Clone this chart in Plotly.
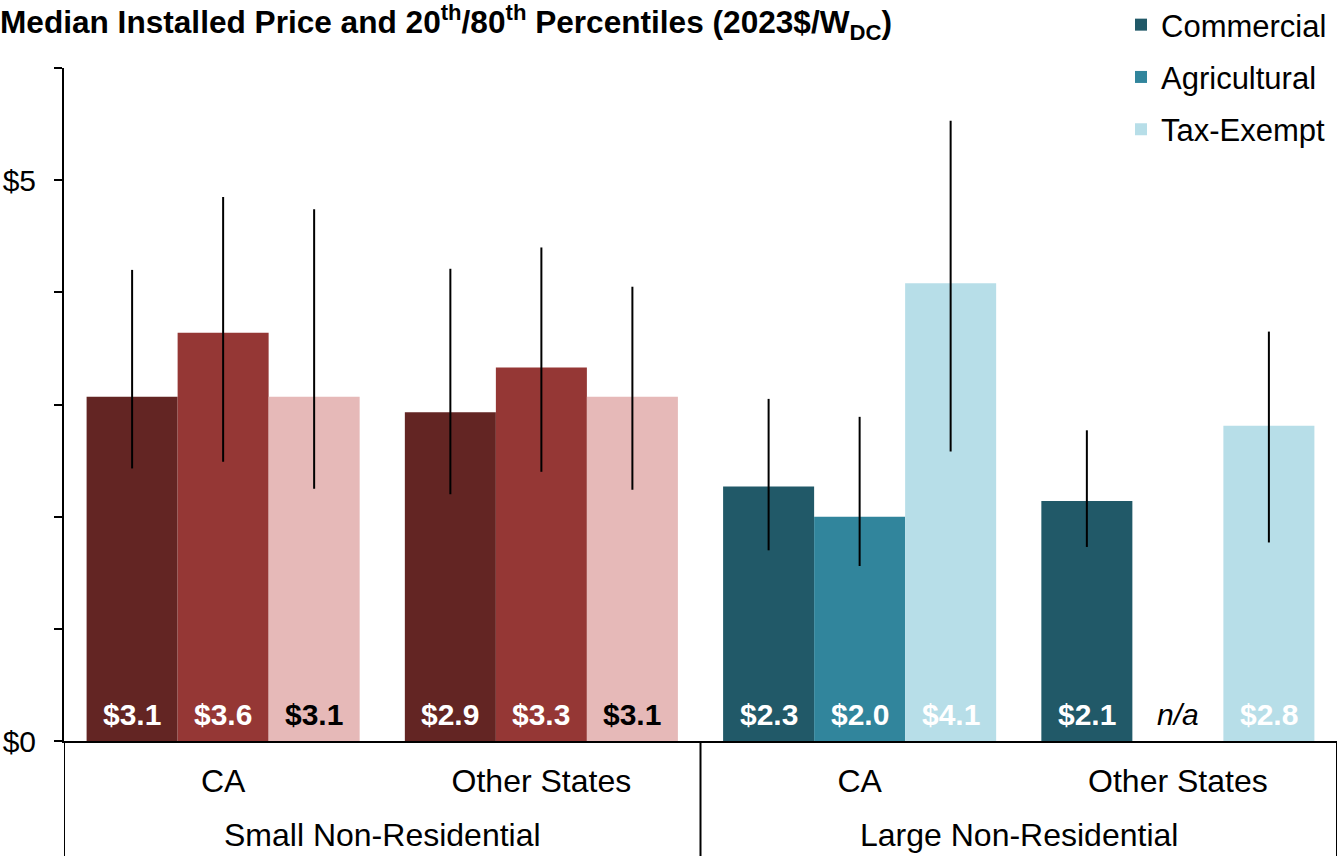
import plotly.graph_objects as go

# ---------------- data ----------------
categories = ["CA", "Other States", "CA", "Other States"]
segments = ["Small Non-Residential", "Large Non-Residential"]
series_names = ["Commercial", "Agricultural", "Tax-Exempt"]

median_commercial = [3.07, 2.93, 2.27, 2.14]
median_agricultural = [3.64, 3.33, 2.00, None]
median_taxexempt = [3.07, 3.07, 4.08, 2.81]

p20_commercial = [2.43, 2.20, 1.70, 1.73]
p80_commercial = [4.20, 4.21, 3.05, 2.77]
p20_agricultural = [2.49, 2.40, 1.56, None]
p80_agricultural = [4.85, 4.40, 2.89, None]
p20_taxexempt = [2.25, 2.24, 2.58, 1.77]
p80_taxexempt = [4.74, 4.05, 5.53, 3.65]

y_tick_values = [0, 1, 2, 3, 4, 5, 6]
y_tick_labels = ["$0", "", "", "", "", "$5", ""]

# ---------------- styles ----------------
FONT = "Liberation Sans, Arial, sans-serif"
small_colors = ["#632523", "#953735", "#E6B9B8"]
large_colors = ["#215968", "#31859C", "#B7DEE8"]
small_label_colors = ["white", "white", "black"]
large_label_colors = ["white", "white", "white"]
bar_w = 0.286
offsets = [-1.5 * bar_w, -0.5 * bar_w, 0.5 * bar_w]

medians = [median_commercial, median_agricultural, median_taxexempt]
p20s = [p20_commercial, p20_agricultural, p20_taxexempt]
p80s = [p80_commercial, p80_agricultural, p80_taxexempt]

fig = go.Figure()
annotations = []
xpos = list(range(len(categories)))

for s, name in enumerate(series_names):
    for seg, (idx, colors, lcolors, show) in enumerate(
        [([0, 1], small_colors, small_label_colors, False),
         ([2, 3], large_colors, large_label_colors, True)]):
        xs = [xpos[i] for i in idx]
        ys = [medians[s][i] for i in idx]
        plus = [(p80s[s][i] - medians[s][i]) if medians[s][i] is not None else None for i in idx]
        minus = [(medians[s][i] - p20s[s][i]) if medians[s][i] is not None else None for i in idx]
        fig.add_trace(go.Bar(
            x=xs, y=ys, name=name, legendgroup=name, showlegend=show,
            offset=offsets[s], width=bar_w,
            marker=dict(color=colors[s], line=dict(width=0)),
            error_y=dict(type="data", symmetric=False, array=plus, arrayminus=minus,
                         color="black", thickness=2, width=0),
        ))
        for i in idx:
            v = medians[s][i]
            cx = xpos[i] + offsets[s] + bar_w / 2
            if v is None:
                annotations.append(dict(x=cx, y=0.24, xref="x", yref="y", text="<i>n/a</i>",
                                        showarrow=False, font=dict(family=FONT, size=30, color="black")))
            else:
                annotations.append(dict(x=cx, y=0.24, xref="x", yref="y", text=f"<b>${v:.1f}</b>",
                                        showarrow=False, font=dict(family=FONT, size=30, color=lcolors[s])))

# segment labels (second row of category axis)
for k, seg in enumerate(segments):
    annotations.append(dict(x=2 * k + 0.5, y=-(835 - 741) / 673, xref="x", yref="paper",
                            text=seg, showarrow=False, yanchor="middle",
                            font=dict(family=FONT, size=32, color="black")))

# title
annotations.append(dict(
    x=-66 / 1273, y=1 + (68 - 22) / 673, xref="paper", yref="paper", xanchor="left", yanchor="middle",
    text="<b>Median Installed Price and 20<sup>th</sup>/80<sup>th</sup> Percentiles (2023$/W<sub>DC</sub>)</b>",
    showarrow=False, font=dict(family=FONT, size=31.6, color="black")))

shapes = []
for xv in [-0.5, 1.5, 3.5]:
    shapes.append(dict(type="line", xref="x", yref="paper", x0=xv, x1=xv, y0=0, y1=-115 / 673,
                       line=dict(color="black", width=2)))

fig.update_layout(
    width=1339, height=856,
    margin=dict(l=64, r=2, t=68, b=115, autoexpand=False),
    plot_bgcolor="white", paper_bgcolor="white",
    barmode="overlay",
    font=dict(family=FONT, size=29, color="black"),
    annotations=annotations,
    shapes=shapes,
    legend=dict(x=(1121 - 64) / 1273, y=1 + (68 + 2) / 673, xanchor="left", yanchor="top",
                font=dict(family=FONT, size=31, color="black"),
                traceorder="grouped", tracegroupgap=9, bgcolor="rgba(0,0,0,0)"),
    xaxis=dict(range=[-0.5, 3.5], tickvals=xpos, ticktext=categories,
               ticks="outside", ticklen=11, tickcolor="rgba(0,0,0,0)",
               showline=True, linecolor="black", linewidth=2, showgrid=False, zeroline=False,
               tickfont=dict(family=FONT, size=32, color="black")),
    yaxis=dict(range=[0, 6], tickvals=y_tick_values, ticktext=y_tick_labels,
               ticks="outside", ticklen=8, tickwidth=2, tickcolor="black", ticklabelstandoff=12,
               showline=True, linecolor="black", linewidth=2, showgrid=False, zeroline=False,
               tickfont=dict(family=FONT, size=30, color="black")),
)

fig.write_html("out.html", config={"displayModeBar": False},
               post_script="document.body.style.margin='0';")
